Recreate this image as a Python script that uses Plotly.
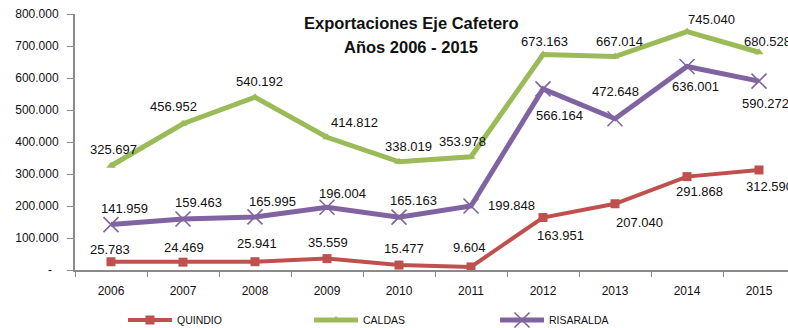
import plotly.graph_objects as go

# Exportaciones anuales por departamento (valores en la unidad del informe)
years = ["2006", "2007", "2008", "2009", "2010", "2011", "2012", "2013", "2014", "2015"]
quindio = [25783, 24469, 25941, 35559, 15477, 9604, 163951, 207040, 291868, 312590]
caldas = [325697, 456952, 540192, 414812, 338019, 353978, 673163, 667014, 745040, 680528]
risaralda = [141959, 159463, 165995, 196004, 165163, 199848, 566164, 472648, 636001, 590272]

y_ticks = [0, 100000, 200000, 300000, 400000, 500000, 600000, 700000, 800000]
y_ticktext = ["-\u00a0\u00a0", "100.000", "200.000", "300.000", "400.000",
              "500.000", "600.000", "700.000", "800.000"]

# Desplazamientos (px) de cada etiqueta de dato respecto a su punto
quindio_off = [(-1, -12), (1, -15), (2, -18), (1, -16), (5, -17), (-2, -19),
               (17, 18), (24, 19), (12, 15), (10, 17)]
caldas_off = [(2, -16), (-10, -17), (4, -16), (27, -15), (9, -15), (-9, -15),
              (1, -13), (4, -15), (24, -12), (8, -11)]
risaralda_off = [(13, -16), (15, -16), (17, -15), (15, -14), (14, -17), (40, -1),
                 (16, 27), (0, -27), (8, 20), (6, 22)]

FONT = "Liberation Sans, Arial, sans-serif"
TXT = "#111111"
RED, GREEN, PURPLE = "#C0504D", "#9BBB59", "#8064A2"
AXIS = "#8a8a8a"


def fmt(v):
    return f"{v:,}".replace(",", ".")


fig = go.Figure()
series = [
    ("QUINDIO", quindio, RED, dict(symbol="square", size=9, color=RED), 4, quindio_off),
    ("CALDAS", caldas, GREEN, dict(symbol="triangle-up", size=8, color=GREEN), 5, caldas_off),
    ("RISARALDA", risaralda, PURPLE,
     dict(symbol="x-thin-open", size=15, color=PURPLE, line=dict(width=1.6, color=PURPLE)), 5,
     risaralda_off),
]

annotations = []
for name, vals, color, marker, width, offs in series:
    fig.add_trace(go.Scatter(
        x=years, y=vals, name=name, mode="lines+markers",
        line=dict(color=color, width=width), marker=marker,
    ))
    # etiquetas de valor: x como índice de categoría
    for i, (v, (dx, dy)) in enumerate(zip(vals, offs)):
        annotations.append(dict(
            x=i, y=v, xref="x", yref="y", text=fmt(v), showarrow=False,
            xshift=dx, yshift=-dy, font=dict(family=FONT, size=13, color=TXT),
        ))

# título en dos líneas
annotations.append(dict(
    x=0.4713, y=0.965, xref="paper", yref="paper", xanchor="center", yanchor="middle",
    text="<b>Exportaciones Eje Cafetero</b>", showarrow=False,
    font=dict(family=FONT, size=16.5, color=TXT),
))
annotations.append(dict(
    x=0.4713, y=0.871, xref="paper", yref="paper", xanchor="center", yanchor="middle",
    text="<b>Años 2006 - 2015</b>", showarrow=False,
    font=dict(family=FONT, size=16.5, color=TXT),
))

fig.update_layout(
    width=788, height=328,
    margin=dict(l=75, r=0, t=14, b=58),
    paper_bgcolor="white", plot_bgcolor="white",
    font=dict(family=FONT, size=12, color=TXT),
    showlegend=True,
    legend=dict(
        orientation="h", xref="container", yref="container",
        x=123 / 788, y=8 / 328, xanchor="left", yanchor="middle",
        entrywidth=127, entrywidthmode="pixels",
        font=dict(family=FONT, size=10.5, color=TXT),
        itemwidth=44,
    ),
    annotations=annotations,
)

fig.update_xaxes(
    type="category", range=[-0.5, -0.5 + 713 / 72],
    showline=True, linecolor=AXIS, linewidth=2,
    ticks="outside", tickson="boundaries", ticklen=5, tickcolor=AXIS, tickwidth=1,
    showgrid=False, zeroline=False, ticklabelstandoff=9,
    tickfont=dict(family=FONT, size=12, color=TXT),
)
fig.update_yaxes(
    range=[0, 800000], tickvals=y_ticks, ticktext=y_ticktext,
    showline=True, linecolor=AXIS, linewidth=2,
    ticks="outside", ticklen=6, tickcolor=AXIS, tickwidth=1,
    showgrid=False, zeroline=False, ticklabelstandoff=6,
    tickfont=dict(family=FONT, size=12, color=TXT),
)

fig.write_html("out.html")
